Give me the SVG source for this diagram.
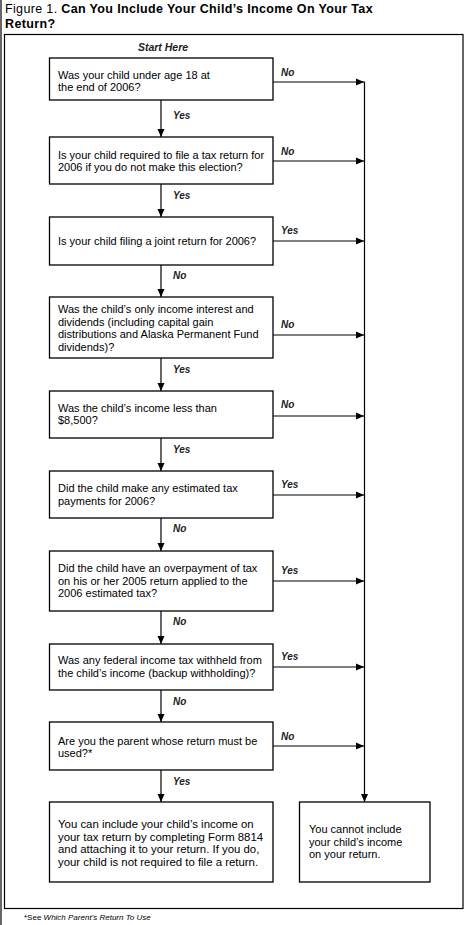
<svg xmlns="http://www.w3.org/2000/svg" width="468" height="925" viewBox="0 0 468 925">
<defs>
<marker id="ah" viewBox="0 0 8 8" refX="8" refY="4" markerWidth="8" markerHeight="8" markerUnits="userSpaceOnUse" orient="auto">
<path d="M0,0.5 L8,4 L0,7.5 Z" fill="#000"/>
</marker>
<style>
.bx{fill:#fff;stroke:#000;stroke-width:1.3}
.t{font-family:"Liberation Sans",Arial,Helvetica,sans-serif;font-size:11px;fill:#000}
.lb{font-family:"Liberation Sans",Arial,Helvetica,sans-serif;font-size:10px;font-style:italic;font-weight:bold;fill:#222}
.ttl{font-family:"Liberation Sans",Arial,Helvetica,sans-serif;font-size:12.5px;letter-spacing:0.35px;fill:#000}
.c{fill:none;stroke:#000;stroke-width:1.2}
.ca{fill:none;stroke:#000;stroke-width:1.2;marker-end:url(#ah)}
</style>
</defs>
<rect width="468" height="925" fill="#fff"/>
<line x1="1" y1="0" x2="1" y2="925" stroke="#000" stroke-width="1.2"/>
<text class="ttl" x="5" y="13">Figure 1. <tspan font-weight="bold">Can You Include Your Child’s Income On Your Tax</tspan></text>
<text class="ttl" x="5" y="27.5" font-weight="bold">Return?</text>
<rect x="4.5" y="34.5" width="458.5" height="874" fill="none" stroke="#000" stroke-width="1.2"/>
<text x="163" y="51" text-anchor="middle" class="lb" style="font-size:10.5px">Start Here</text>

<g id="connectors">
<line class="ca" x1="161" y1="100" x2="161" y2="137"/>
<line class="ca" x1="161" y1="184" x2="161" y2="217"/>
<line class="ca" x1="161" y1="265" x2="161" y2="297"/>
<line class="ca" x1="161" y1="358" x2="161" y2="391"/>
<line class="ca" x1="161" y1="438" x2="161" y2="471"/>
<line class="ca" x1="161" y1="518" x2="161" y2="551"/>
<line class="ca" x1="161" y1="611" x2="161" y2="644"/>
<line class="ca" x1="161" y1="690" x2="161" y2="722"/>
<line class="ca" x1="161" y1="770" x2="161" y2="802"/>
<line class="ca" x1="273" y1="82" x2="364" y2="82"/>
<line class="ca" x1="273" y1="161" x2="364" y2="161"/>
<line class="ca" x1="273" y1="241" x2="364" y2="241"/>
<line class="ca" x1="273" y1="335" x2="364" y2="335"/>
<line class="ca" x1="273" y1="416" x2="364" y2="416"/>
<line class="ca" x1="273" y1="495" x2="364" y2="495"/>
<line class="ca" x1="273" y1="581" x2="364" y2="581"/>
<line class="ca" x1="273" y1="667" x2="364" y2="667"/>
<line class="ca" x1="273" y1="746" x2="364" y2="746"/>
<line class="ca" x1="364.5" y1="81.5" x2="364.5" y2="802"/>
<text class="lb" x="173" y="119">Yes</text>
<text class="lb" x="173" y="199">Yes</text>
<text class="lb" x="173" y="279">No</text>
<text class="lb" x="173" y="373">Yes</text>
<text class="lb" x="173" y="453">Yes</text>
<text class="lb" x="173" y="532">No</text>
<text class="lb" x="173" y="625">No</text>
<text class="lb" x="173" y="705">No</text>
<text class="lb" x="173" y="785">Yes</text>
<text class="lb" x="281" y="76">No</text>
<text class="lb" x="281" y="155">No</text>
<text class="lb" x="281" y="234">Yes</text>
<text class="lb" x="281" y="328">No</text>
<text class="lb" x="281" y="408">No</text>
<text class="lb" x="281" y="488">Yes</text>
<text class="lb" x="281" y="574">Yes</text>
<text class="lb" x="281" y="660">Yes</text>
<text class="lb" x="281" y="740">No</text>
</g>

<g id="q1"><rect class="bx" x="49.5" y="58" width="223.5" height="42"/>
<text class="t" x="58" y="79">Was your child under age 18 at</text>
<text class="t" x="58" y="91">the end of 2006?</text></g>

<g id="q2"><rect class="bx" x="49.5" y="137" width="223.5" height="47"/>
<text class="t" x="58" y="159">Is your child required to file a tax return for</text>
<text class="t" x="58" y="171">2006 if you do not make this election?</text></g>

<g id="q3"><rect class="bx" x="49.5" y="217" width="223.5" height="48"/>
<text class="t" x="58" y="245">Is your child filing a joint return for 2006?</text></g>

<g id="q4"><rect class="bx" x="49.5" y="297" width="223.5" height="61"/>
<text class="t" x="58" y="313">Was the child’s only income interest and</text>
<text class="t" x="58" y="325.5">dividends (including capital gain</text>
<text class="t" x="58" y="338">distributions and Alaska Permanent Fund</text>
<text class="t" x="58" y="350.5">dividends)?</text></g>

<g id="q5"><rect class="bx" x="49.5" y="391" width="223.5" height="47"/>
<text class="t" x="58" y="412">Was the child’s income less than</text>
<text class="t" x="58" y="424">$8,500?</text></g>

<g id="q6"><rect class="bx" x="49.5" y="471" width="223.5" height="47"/>
<text class="t" x="58" y="492">Did the child make any estimated tax</text>
<text class="t" x="58" y="504.5">payments for 2006?</text></g>

<g id="q7"><rect class="bx" x="49.5" y="551" width="223.5" height="60"/>
<text class="t" x="58" y="572">Did the child have an overpayment of tax</text>
<text class="t" x="58" y="584.5">on his or her 2005 return applied to the</text>
<text class="t" x="58" y="597">2006 estimated tax?</text></g>

<g id="q8"><rect class="bx" x="49.5" y="644" width="223.5" height="46"/>
<text class="t" x="58" y="664">Was any federal income tax withheld from</text>
<text class="t" x="58" y="676.5">the child’s income (backup withholding)?</text></g>

<g id="q9"><rect class="bx" x="49.5" y="722" width="223.5" height="48"/>
<text class="t" x="58" y="745">Are you the parent whose return must be</text>
<text class="t" x="58" y="757">used?*</text></g>

<g id="yes-result"><rect class="bx" x="49.5" y="802" width="223.5" height="80"/>
<text class="t" x="58" y="828" style="font-size:11.4px">You can include your child’s income on</text>
<text class="t" x="58" y="840.5" style="font-size:11.4px">your tax return by completing Form 8814</text>
<text class="t" x="58" y="853" style="font-size:11.4px">and attaching it to your return. If you do,</text>
<text class="t" x="58" y="865.5" style="font-size:11.4px">your child is not required to file a return.</text></g>

<g id="no-result"><rect class="bx" x="299.5" y="802" width="130.5" height="80"/>
<text class="t" x="309" y="833">You cannot include</text>
<text class="t" x="309" y="845.5">your child’s income</text>
<text class="t" x="309" y="858">on your return.</text></g>

<text x="24" y="920" style="font-family:'Liberation Sans',Arial,sans-serif;font-size:8px">*See <tspan font-style="italic">Which Parent’s Return To Use</tspan></text>
</svg>
